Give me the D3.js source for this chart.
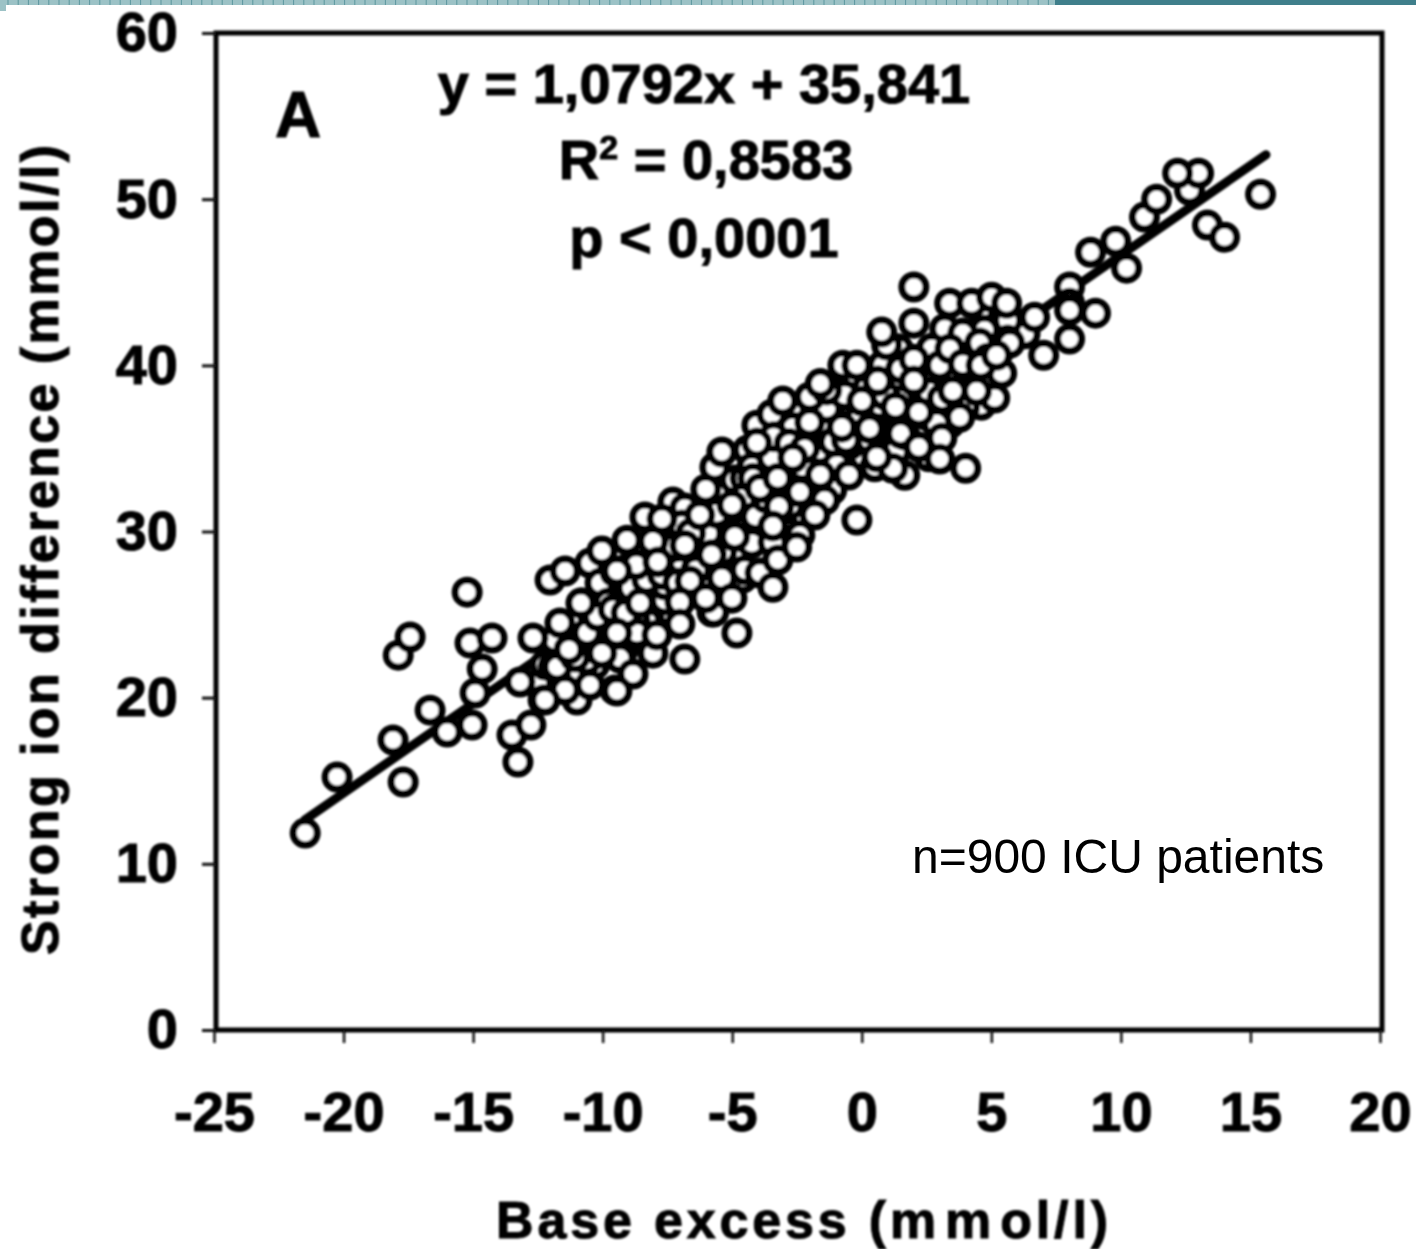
<!DOCTYPE html>
<html>
<head>
<meta charset="utf-8">
<script src="https://cdnjs.cloudflare.com/ajax/libs/d3/7.8.5/d3.min.js"></script>
<style>
  html, body { margin: 0; padding: 0; background: #fff; }
  svg { display: block; }
  text { font-family: "Liberation Sans", Arial, sans-serif; fill: #000; }
  .scan text { font-weight: bold; stroke: #000; stroke-width: 1px; }
</style>
</head>
<body>
<script>
'use strict';

var xTicks = [-25, -20, -15, -10, -5, 0, 5, 10, 15, 20];
var yTicks = [0, 10, 20, 30, 40, 50, 60];
var regression = { slope: 1.0792, intercept: 35.841, from: -21.5, to: 15.6 };
var equationLines = ['y = 1,0792x + 35,841', '= 0,8583', 'p < 0,0001'];

// [base excess, strong ion difference], back to front
// hidden points inside the dense band, only their rims show
var hiddenPoints = [
  [-12.5, 20.8], [-12.0, 22.9], [-11.6, 21.1], [-11.2, 23.4], [-10.9, 21.5], [-10.7, 24.4], [-10.3, 22.0],
  [-10.2, 26.0], [-9.9, 23.2], [-9.7, 26.7], [-9.3, 24.9], [-9.2, 22.9], [-9.0, 27.8], [-8.9, 25.8],
  [-8.4, 28.7], [-8.4, 26.6], [-8.3, 24.6], [-8.0, 23.6], [-7.9, 26.9], [-7.5, 29.6], [-7.4, 27.5],
  [-7.3, 25.0], [-6.9, 28.0], [-6.7, 30.4], [-6.6, 26.3], [-6.3, 29.4], [-6.1, 31.5], [-5.9, 27.9],
  [-5.7, 30.7], [-5.5, 32.6], [-5.3, 26.4], [-5.1, 29.4], [-4.9, 33.1], [-4.8, 31.6], [-4.6, 27.2],
  [-4.4, 34.9], [-4.3, 32.2], [-4.2, 30.6], [-3.8, 33.4], [-3.7, 35.6], [-3.6, 31.4], [-3.2, 36.0],
  [-3.1, 34.5], [-3.0, 30.0], [-2.8, 32.8], [-2.6, 37.3], [-2.5, 35.1], [-2.2, 31.0], [-2.1, 33.1],
  [-1.9, 34.1], [-1.8, 37.4], [-1.5, 35.6], [-1.3, 33.3], [-1.0, 37.1], [-0.9, 35.0], [-0.5, 38.9],
  [-0.4, 36.9], [-0.2, 34.6], [0.2, 38.6], [0.3, 37.0], [0.5, 33.9], [0.8, 40.0], [0.9, 36.4],
  [1.1, 38.8], [1.3, 34.8], [1.4, 41.0], [1.6, 38.9], [1.8, 36.9], [2.3, 39.9], [2.5, 37.0],
  [2.6, 34.5], [3.0, 38.4], [3.2, 42.2], [3.4, 36.5], [3.6, 39.9], [4.1, 38.9], [4.2, 41.5],
  [4.6, 37.6], [4.7, 43.0], [5.1, 41.9], [5.4, 42.7], [6.0, 42.5], [6.3, 41.9]
];

var corePoints = [
  [-12.23, 21.96], [-11.65, 23.47], [-11.07, 24.37], [-10.49, 25.27], [-10.10, 23.47], [-9.72, 24.97],
  [-9.14, 26.78], [-8.56, 27.38], [-8.75, 24.67], [-8.18, 25.87], [-7.60, 25.87], [-7.79, 27.68],
  [-7.21, 28.28], [-7.02, 27.68], [-6.44, 28.88], [-6.25, 28.28], [-6.05, 27.38], [-5.48, 30.08],
  [-4.90, 30.69], [-4.70, 28.88], [-4.51, 27.68], [-4.13, 31.29], [-3.93, 30.08], [-3.36, 31.89],
  [-2.97, 33.69], [-2.78, 31.59], [-2.39, 33.69], [-2.20, 35.50], [-1.62, 34.90], [-1.23, 36.10],
  [-0.46, 35.20], [-0.66, 33.69], [0.12, 36.70], [0.31, 35.50], [0.69, 37.61], [1.27, 36.10],
  [1.47, 37.91], [1.66, 35.80], [2.43, 38.21], [2.82, 39.41], [3.39, 39.71], [3.78, 40.61],
  [4.36, 39.71], [4.74, 42.12], [5.32, 40.91]
];

var midPoints = [
  [-12.03, 27.08], [-10.80, 25.69], [-10.49, 28.10], [-9.06, 29.48], [-8.37, 30.87], [-10.10, 26.90],
  [-9.80, 25.69], [-10.30, 24.07], [-11.84, 23.47], [-11.92, 21.84], [-11.76, 21.84], [-10.61, 22.26],
  [-10.99, 19.86], [-11.07, 22.44], [-9.33, 22.38], [-8.68, 23.89], [-8.56, 25.69], [-7.60, 26.78],
  [-5.86, 29.90], [-7.29, 31.77], [-6.83, 31.41], [-6.94, 30.39], [-5.94, 29.90], [-5.78, 25.15],
  [-5.40, 28.76], [-4.63, 30.08], [-4.24, 29.30], [-3.43, 29.36], [-3.93, 27.50], [-3.24, 28.28],
  [-4.51, 33.21], [-4.05, 36.40], [-3.47, 37.06], [-4.24, 33.87], [-5.67, 33.87], [-2.66, 36.28],
  [-3.47, 34.42], [-1.35, 37.42], [-0.66, 38.21], [-2.01, 38.09], [-1.35, 38.51], [-0.73, 40.01],
  [0.96, 41.22], [0.77, 42.00], [2.70, 41.03], [3.01, 40.01], [3.90, 41.94], [4.55, 41.34],
  [4.86, 40.43], [4.86, 39.29], [5.40, 39.53], [5.13, 38.03], [3.97, 37.48], [3.78, 36.88],
  [2.89, 36.52], [3.09, 35.62], [3.01, 34.36], [1.66, 33.39], [1.20, 33.81], [-0.96, 34.00],
  [-1.16, 32.49], [-2.39, 32.37], [-1.43, 31.89], [-2.39, 29.78], [-2.51, 29.06], [-3.43, 26.65],
  [-5.71, 25.15], [5.63, 42.72], [5.63, 41.52], [5.71, 41.34], [6.67, 42.90], [8.02, 44.71],
  [8.02, 43.74], [8.02, 43.32], [10.91, 48.92], [12.65, 50.54], [13.34, 48.44], [-15.04, 18.35],
  [-16.00, 17.93], [-13.19, 20.94], [-13.50, 17.75], [-12.77, 18.35], [-14.92, 20.28], [-17.89, 22.56],
  [-15.12, 23.29]
];

// more overlapped points, drawn just behind the fully visible circles
var overlapPoints = [
  [-11.3, 22.9], [-10.6, 23.9], [-10.2, 24.9], [-9.6, 25.3], [-9.1, 25.1], [-8.9, 26.6], [-8.3, 27.1],
  [-8.7, 28.0], [-7.7, 27.4], [-7.1, 26.9], [-7.2, 29.1], [-6.4, 27.7], [-6.6, 29.9], [-5.8, 28.6],
  [-5.6, 31.1], [-4.9, 29.7], [-4.6, 32.0], [-4.1, 30.9], [-4.2, 33.2], [-3.7, 32.0], [-3.2, 31.5],
  [-3.4, 35.7], [-2.8, 35.3], [-2.3, 33.9], [-2.2, 35.0], [-1.6, 33.4], [-1.1, 35.4], [-0.6, 35.5],
  [-0.2, 36.6], [0.3, 36.2], [0.9, 38.2], [1.3, 37.5], [1.5, 35.9], [1.5, 39.8], [2.6, 38.4],
  [3.1, 38.0], [3.4, 41.0], [3.9, 40.1], [4.6, 40.0], [5.2, 40.6], [-0.5, 33.4], [-1.6, 38.9]
];

var frontPoints = [
  [-21.48, 11.85], [-20.25, 15.22], [-17.70, 14.92], [-18.09, 17.45], [-17.43, 23.65], [-16.66, 19.25],
  [-14.65, 21.72], [-14.27, 23.59], [-15.23, 26.35], [-12.69, 23.59], [-13.27, 16.13], [-12.30, 19.86],
  [-11.45, 20.46], [-10.49, 20.76], [-9.53, 20.46], [-10.03, 22.68], [-9.53, 23.89], [-11.65, 24.49],
  [-11.45, 27.62], [-10.03, 28.82], [-9.53, 27.56], [-9.45, 27.62], [-8.06, 29.42], [-7.71, 30.75],
  [-6.25, 30.99], [-6.02, 32.55], [-5.01, 31.59], [-6.83, 29.18], [-7.87, 28.16], [-3.43, 30.33],
  [-3.93, 32.61], [-6.63, 27.02], [-5.40, 27.20], [-8.56, 25.69], [-10.84, 25.69], [-7.02, 25.75],
  [-6.02, 25.99], [-5.01, 25.99], [-7.02, 24.43], [-4.82, 23.89], [-9.45, 23.89], [-8.06, 22.68],
  [-6.83, 22.32], [-8.83, 21.42], [-9.45, 20.40], [-12.23, 19.86], [-7.91, 23.77], [-5.40, 34.78],
  [-4.05, 35.32], [-3.05, 37.85], [-2.66, 34.42], [-3.24, 33.21], [-2.01, 36.58], [-0.77, 36.28],
  [0, 37.85], [-0.19, 40.01], [0.62, 39.05], [2.01, 44.71], [2.01, 42.54], [2.01, 40.37],
  [2.01, 39.05], [3.39, 43.74], [4.24, 43.74], [5.01, 44.10], [5.59, 43.74], [4.43, 38.45],
  [3.51, 38.45], [2.20, 37.18], [2.20, 35.08], [4.01, 33.81], [0.58, 34.48], [-1.81, 30.99],
  [-0.19, 30.69], [15.39, 50.30], [13.00, 51.56], [12.19, 51.56], [11.38, 50.00], [14.00, 47.71],
  [9.80, 47.47], [8.83, 46.81], [10.22, 45.85], [9.02, 43.14], [8.02, 41.58], [7.02, 40.61]
];

var width = 1416, height = 1254;

var x = d3.scaleLinear().domain([-25, 20]).range([214, 1380]);
var y = d3.scaleLinear().domain([0, 60]).range([1030, 33]);

var svg = d3.select('body').append('svg')
  .attr('width', width)
  .attr('height', height);

svg.append('rect').attr('width', width).attr('height', height).attr('fill', '#fff');

var defs = svg.append('defs');
defs.append('filter').attr('id', 'scan')
  .attr('x', 0).attr('y', 0).attr('width', 1).attr('height', 1)
  .append('feGaussianBlur').attr('stdDeviation', 0.8);

// slide header strip
var strip = svg.append('g');
strip.append('rect').attr('width', 1055).attr('height', 5).attr('fill', '#9cc2c6');
strip.append('rect').attr('x', 1055).attr('width', width - 1055).attr('height', 5).attr('fill', '#3f7f8b');
strip.append('rect').attr('y', 5).attr('width', 6).attr('height', 6).attr('fill', '#9cc2c6');
strip.selectAll('line').data(d3.range(8, 1055, 10.2)).join('line')
  .attr('x1', d => d).attr('x2', d => d).attr('y1', 0).attr('y2', 5)
  .attr('stroke', '#5c979f').attr('stroke-width', 1);

var chart = svg.append('g').attr('class', 'scan').attr('filter', 'url(#scan)');

// frame
chart.append('rect')
  .attr('x', 216).attr('y', 33)
  .attr('width', 1166).attr('height', 997)
  .attr('fill', 'none').attr('stroke', '#000').attr('stroke-width', 5);

var tickLabel = function (d) { return String(d); };

var xAxis = chart.append('g')
  .attr('transform', 'translate(0,1030)')
  .call(d3.axisBottom(x).tickValues(xTicks).tickSize(13).tickPadding(48).tickFormat(tickLabel));
xAxis.select('.domain').remove();
xAxis.selectAll('line').attr('stroke', '#111').attr('stroke-width', 2.5);
xAxis.selectAll('text').attr('font-size', 56).style('font-family', '"Liberation Sans"');

var yAxis = chart.append('g')
  .attr('transform', 'translate(216,0)')
  .call(d3.axisLeft(y).tickValues(yTicks).tickSize(14).tickPadding(24).tickFormat(tickLabel));
yAxis.select('.domain').remove();
yAxis.selectAll('line').attr('stroke', '#111').attr('stroke-width', 3);
yAxis.selectAll('text').attr('font-size', 56).style('font-family', '"Liberation Sans"');

// regression line sits under the circles
var regLine = d3.line().x(d => x(d)).y(d => y(regression.slope * d + regression.intercept));
chart.append('path')
  .attr('d', regLine([regression.from, regression.to]))
  .attr('fill', 'none').attr('stroke', '#000').attr('stroke-width', 9).attr('stroke-linecap', 'round');

chart.append('g').selectAll('circle')
  .data(hiddenPoints.concat(corePoints, midPoints, overlapPoints, frontPoints))
  .join('circle')
  .attr('cx', d => x(d[0]))
  .attr('cy', d => y(d[1]))
  .attr('r', 12)
  .attr('fill', '#fff')
  .attr('stroke', '#000')
  .attr('stroke-width', 7);

// equation block
chart.append('text').attr('x', 704).attr('y', 103).attr('text-anchor', 'middle').attr('font-size', 56).text(equationLines[0]);
var r2 = chart.append('text').attr('x', 706).attr('y', 179).attr('text-anchor', 'middle').attr('font-size', 56);
r2.append('tspan').text('R');
r2.append('tspan').attr('font-size', 34).attr('dy', -20).text('2');
r2.append('tspan').attr('dy', 20).text(' ' + equationLines[1]);
chart.append('text').attr('x', 704).attr('y', 257).attr('text-anchor', 'middle').attr('font-size', 56).text(equationLines[2]);

chart.append('text').attr('x', 298).attr('y', 137).attr('text-anchor', 'middle').attr('font-size', 64).text('A');

// axis titles
chart.append('text')
  .attr('transform', 'translate(58,550) rotate(-90)')
  .attr('text-anchor', 'middle')
  .attr('font-size', 52)
  .attr('textLength', 810)
  .text('Strong ion difference (mmol/l)');

var xTitle = chart.append('text')
  .attr('x', 802).attr('y', 1238)
  .attr('text-anchor', 'middle')
  .attr('font-size', 52)
  .attr('textLength', 612);
xTitle.append('tspan').text('Base excess (m');
xTitle.append('tspan').attr('dx', 5).text('m');
xTitle.append('tspan').attr('dx', 5).text('ol/l)');

svg.append('text')
  .attr('x', 912).attr('y', 873)
  .attr('font-size', 48)
  .text('n=900 ICU patients');
</script>
</body>
</html>
